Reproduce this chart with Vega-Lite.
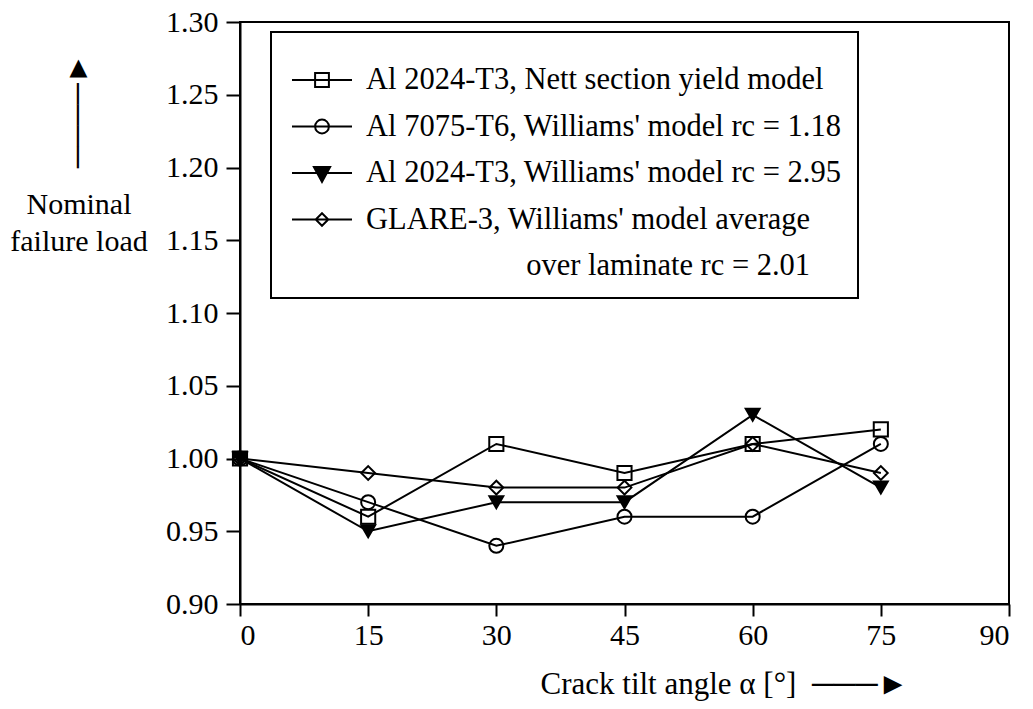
{
  "$schema": "https://vega.github.io/schema/vega-lite/v6.json",
  "width": 769,
  "height": 582,
  "autosize": {"type": "none"},
  "padding": {"left": 240, "top": 22, "right": 24, "bottom": 105},
  "background": "white",
  "title": {
    "text": "────►",
    "angle": -90,
    "orient": "top",
    "anchor": "start",
    "frame": "group",
    "align": "left",
    "baseline": "middle",
    "offset": 0,
    "dx": -276,
    "dy": -162,
    "font": "Liberation Serif",
    "fontSize": 30,
    "fontWeight": "normal",
    "color": "black"
  },
  "data": {
    "values": [
      {"series": "Al 2024-T3, Nett section yield model", "angle": 0, "load": 1.00},
      {"series": "Al 2024-T3, Nett section yield model", "angle": 15, "load": 0.96},
      {"series": "Al 2024-T3, Nett section yield model", "angle": 30, "load": 1.01},
      {"series": "Al 2024-T3, Nett section yield model", "angle": 45, "load": 0.99},
      {"series": "Al 2024-T3, Nett section yield model", "angle": 60, "load": 1.01},
      {"series": "Al 2024-T3, Nett section yield model", "angle": 75, "load": 1.02},
      {"series": "Al 7075-T6, Williams' model rc = 1.18", "angle": 0, "load": 1.00},
      {"series": "Al 7075-T6, Williams' model rc = 1.18", "angle": 15, "load": 0.97},
      {"series": "Al 7075-T6, Williams' model rc = 1.18", "angle": 30, "load": 0.94},
      {"series": "Al 7075-T6, Williams' model rc = 1.18", "angle": 45, "load": 0.96},
      {"series": "Al 7075-T6, Williams' model rc = 1.18", "angle": 60, "load": 0.96},
      {"series": "Al 7075-T6, Williams' model rc = 1.18", "angle": 75, "load": 1.01},
      {"series": "Al 2024-T3, Williams' model rc = 2.95", "angle": 0, "load": 1.00},
      {"series": "Al 2024-T3, Williams' model rc = 2.95", "angle": 15, "load": 0.95},
      {"series": "Al 2024-T3, Williams' model rc = 2.95", "angle": 30, "load": 0.97},
      {"series": "Al 2024-T3, Williams' model rc = 2.95", "angle": 45, "load": 0.97},
      {"series": "Al 2024-T3, Williams' model rc = 2.95", "angle": 60, "load": 1.03},
      {"series": "Al 2024-T3, Williams' model rc = 2.95", "angle": 75, "load": 0.98},
      {"series": "GLARE-3, Williams' model average", "angle": 0, "load": 1.00},
      {"series": "GLARE-3, Williams' model average", "angle": 15, "load": 0.99},
      {"series": "GLARE-3, Williams' model average", "angle": 30, "load": 0.98},
      {"series": "GLARE-3, Williams' model average", "angle": 45, "load": 0.98},
      {"series": "GLARE-3, Williams' model average", "angle": 60, "load": 1.01},
      {"series": "GLARE-3, Williams' model average", "angle": 75, "load": 0.99}
    ]
  },
  "encoding": {
    "x": {
      "field": "angle",
      "type": "quantitative",
      "scale": {"domain": [0, 90], "nice": false, "zero": false},
      "axis": {
        "values": [0, 15, 30, 45, 60, 75, 90],
        "format": "d",
        "grid": false,
        "tickSize": 12,
        "labelPadding": 4,
        "title": "Crack tilt angle α [°]\u00a0\u00a0───►",
        "titleX": 300,
        "titleY": 89,
        "titleFontSize": 31,
        "titleAlign": "left",
        "titleBaseline": "alphabetic",
        "titleAnchor": "start"
      }
    },
    "y": {
      "field": "load",
      "type": "quantitative",
      "scale": {"domain": [0.9, 1.3], "nice": false, "zero": false},
      "axis": {
        "values": [0.9, 0.95, 1.0, 1.05, 1.1, 1.15, 1.2, 1.25, 1.3],
        "format": ".2f",
        "grid": false,
        "tickSize": 14,
        "labelPadding": 8,
        "title": ["Nominal", "failure load"],
        "titleAngle": 0,
        "titleX": -161.5,
        "titleY": 191,
        "titleAlign": "center",
        "titleBaseline": "alphabetic",
        "titleLineHeight": 37
      }
    }
  },
  "layer": [
    {
      "mark": {"type": "line", "color": "black", "strokeWidth": 2},
      "encoding": {"detail": {"field": "series", "type": "nominal"}}
    },
    {
      "mark": {"type": "point", "filled": true, "stroke": "black", "strokeWidth": 2, "opacity": 1},
      "encoding": {
        "shape": {
          "field": "series", "type": "nominal", "legend": null,
          "scale": {
            "domain": ["Al 2024-T3, Nett section yield model", "Al 7075-T6, Williams' model rc = 1.18", "Al 2024-T3, Williams' model rc = 2.95", "GLARE-3, Williams' model average"],
            "range": ["square", "circle", "triangle-down", "diamond"]
          }
        },
        "fill": {
          "field": "series", "type": "nominal", "legend": null,
          "scale": {
            "domain": ["Al 2024-T3, Nett section yield model", "Al 7075-T6, Williams' model rc = 1.18", "Al 2024-T3, Williams' model rc = 2.95", "GLARE-3, Williams' model average"],
            "range": ["transparent", "transparent", "black", "transparent"]
          }
        },
        "size": {
          "field": "series", "type": "nominal", "legend": null,
          "scale": {
            "domain": ["Al 2024-T3, Nett section yield model", "Al 7075-T6, Williams' model rc = 1.18", "Al 2024-T3, Williams' model rc = 2.95", "GLARE-3, Williams' model average"],
            "range": [200, 190, 320, 170]
          }
        }
      }
    },
    {
      "transform": [{"filter": {"field": "angle", "lt": -1}}],
      "mark": {"type": "point", "filled": true, "strokeWidth": 2, "opacity": 1},
      "encoding": {
        "shape": {
          "field": "series", "type": "nominal",
          "scale": {
            "domain": ["Al 2024-T3, Nett section yield model", "Al 7075-T6, Williams' model rc = 1.18", "Al 2024-T3, Williams' model rc = 2.95", "GLARE-3, Williams' model average", "\u200b\u00a0\u00a0\u00a0\u00a0\u00a0\u00a0\u00a0\u00a0\u00a0\u00a0\u00a0\u00a0\u00a0\u00a0\u00a0\u00a0\u00a0\u00a0\u00a0\u00a0\u00a0over laminate rc = 2.01"],
            "range": ["M-1,0H1M-0.23,-0.23H0.23V0.23H-0.23Z", "M-1,0H1M-0.23,0A0.23,0.23,0,1,0,0.23,0A0.23,0.23,0,1,0,-0.23,0Z", "M-1,0H1M-0.27,-0.2L0.27,-0.2L0,0.3Z", "M-1,0H1M0,-0.21L0.21,0L0,0.21L-0.21,0Z", "M0,0"]
          },
          "legend": {
            "orient": "none",
            "legendX": 31,
            "legendY": 10,
            "title": "\u00a0",
            "titleFontSize": 10,
            "titlePadding": 7,
            "padding": 16,
            "strokeColor": "black",
            "fillColor": "white",
            "symbolSize": 3600,
            "symbolStrokeWidth": 2,
            "symbolStrokeColor": "black",
            "symbolOpacity": 1,
            "symbolOffset": 4,
            "labelOffset": 13,
            "clipHeight": 30,
            "rowPadding": 15.5,
            "labelFont": "Liberation Serif",
            "labelFontSize": 30.5,
            "labelColor": "black",
            "labelLimit": 0
          }
        },
        "fill": {
          "field": "series", "type": "nominal",
          "scale": {
            "domain": ["Al 2024-T3, Nett section yield model", "Al 7075-T6, Williams' model rc = 1.18", "Al 2024-T3, Williams' model rc = 2.95", "GLARE-3, Williams' model average", "\u200b\u00a0\u00a0\u00a0\u00a0\u00a0\u00a0\u00a0\u00a0\u00a0\u00a0\u00a0\u00a0\u00a0\u00a0\u00a0\u00a0\u00a0\u00a0\u00a0\u00a0\u00a0over laminate rc = 2.01"],
            "range": ["transparent", "transparent", "black", "transparent", "transparent"]
          }
        },
        "stroke": {
          "field": "series", "type": "nominal",
          "scale": {
            "domain": ["Al 2024-T3, Nett section yield model", "Al 7075-T6, Williams' model rc = 1.18", "Al 2024-T3, Williams' model rc = 2.95", "GLARE-3, Williams' model average", "\u200b\u00a0\u00a0\u00a0\u00a0\u00a0\u00a0\u00a0\u00a0\u00a0\u00a0\u00a0\u00a0\u00a0\u00a0\u00a0\u00a0\u00a0\u00a0\u00a0\u00a0\u00a0over laminate rc = 2.01"],
            "range": ["black", "black", "black", "black", "black"]
          }
        }
      }
    }
  ],
  "resolve": {"scale": {"shape": "independent", "fill": "independent", "stroke": "independent"}},
  "config": {
    "view": {"stroke": "black", "strokeWidth": 2},
    "axis": {
      "domainColor": "black",
      "domainWidth": 2,
      "tickColor": "black",
      "tickWidth": 2,
      "labelColor": "black",
      "labelFont": "Liberation Serif",
      "labelFontSize": 30,
      "titleFont": "Liberation Serif",
      "titleFontSize": 30,
      "titleFontWeight": "normal",
      "titleColor": "black"
    },
    "legend": {"strokeWidth": 2}
  }
}
